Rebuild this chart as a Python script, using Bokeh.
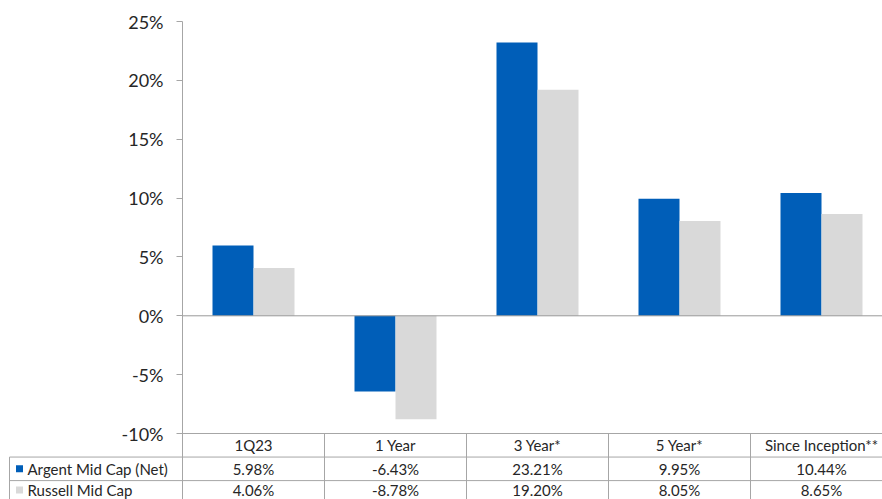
from bokeh.plotting import figure
from bokeh.models import Range1d, FixedTicker, PrintfTickFormatter, ColumnDataSource
from bokeh.core.properties import value
from bokeh.embed import file_html
from bokeh.resources import INLINE

# ---- data ----
categories = ["1Q23", "1 Year", "3 Year*", "5 Year*", "Since Inception**"]
series_names = ["Argent Mid Cap (Net)", "Russell Mid Cap"]
argent = [5.98, -6.43, 23.21, 9.95, 10.44]
russell = [4.06, -8.78, 19.20, 8.05, 8.65]
y_ticks = [-10, -5, 0, 5, 10, 15, 20, 25]

BLUE = "#005EB8"
GRAY = "#D9D9D9"
LINE = "#A6A6A6"
TXT = "#262626"
FONT = "Lato"

# layout (pixels -> data units)
PX_PER_CAT = 142.0
PX_PER_PCT = 11.771
W, H = 882, 499
AXIS_PX = 182          # axis position inside the figure
ZERO_PX = 315.3        # zero line inside the figure
x0 = -AXIS_PX / PX_PER_CAT
x1 = (W - AXIS_PX) / PX_PER_CAT
y1 = ZERO_PX / PX_PER_PCT
y0 = -(H - ZERO_PX) / PX_PER_PCT

p = figure(width=W, height=H, output_backend="svg", toolbar_location=None,
           x_range=Range1d(x0, x1), y_range=Range1d(y0, y1),
           min_border=0, min_border_left=0, min_border_right=0,
           min_border_top=0, min_border_bottom=0)
p.outline_line_color = None
p.xgrid.visible = False
p.ygrid.visible = False
p.xaxis.visible = False
p.background_fill_color = "white"
p.border_fill_color = "white"

ax = p.yaxis[0]
ax.fixed_location = 0
ax.ticker = FixedTicker(ticks=y_ticks)
ax.formatter = PrintfTickFormatter(format="%d%%")
ax.axis_line_color = None
ax.major_tick_line_color = LINE
ax.major_tick_out = 6
ax.major_tick_in = 0
ax.minor_tick_line_color = None
ax.major_label_text_font = FONT
ax.major_label_text_font_size = "18px"
ax.major_label_text_color = TXT
ax.major_label_standoff = 13

n = len(categories)
centers = [i + 0.5 for i in range(n)]
bw = 41 / PX_PER_CAT
src = ColumnDataSource(dict(xa=[c - bw / 2 for c in centers],
                            xr=[c + bw / 2 for c in centers],
                            a=argent, r=russell))
p.vbar(x="xa", width=bw, top="a", bottom=0, source=src, fill_color=BLUE, line_color=None)
p.vbar(x="xr", width=bw, top="r", bottom=0, source=src, fill_color=GRAY, line_color=None)

# axis line and zero line
p.segment(x0=[0], y0=[max(y_ticks)], x1=[0], y1=[y0], line_color=LINE, line_width=1)
p.segment(x0=[0], y0=[0], x1=[x1], y1=[0], line_color="#999999", line_width=1)

# ---- data table below the chart ----
tbl_top = min(y_ticks)
row_h = 2.0
left_x = (9 - AXIS_PX) / PX_PER_CAT
# horizontal lines
p.segment(x0=[0], y0=[tbl_top], x1=[x1], y1=[tbl_top], line_color=LINE)
p.segment(x0=[left_x, left_x], y0=[tbl_top - row_h, tbl_top - 2 * row_h],
          x1=[x1, x1], y1=[tbl_top - row_h, tbl_top - 2 * row_h], line_color=LINE)
# vertical lines
p.segment(x0=list(range(1, n)), y0=[tbl_top] * (n - 1), x1=list(range(1, n)), y1=[y0] * (n - 1),
          line_color=LINE)
p.segment(x0=[left_x], y0=[tbl_top - row_h], x1=[left_x], y1=[y0], line_color=LINE)

# header
p.text(x=centers, y=[tbl_top - row_h / 2] * n, text=categories,
       text_font=value(FONT), text_font_size="15px", text_color=TXT,
       text_align="center", text_baseline="middle")
# rows (the last row sits at the page's bottom edge, nudged up to stay visible)
rows = [argent, russell]
colors = [BLUE, GRAY]
row_centers = [tbl_top - row_h * 1.5, tbl_top - row_h * 2.4]
for k, (vals, name, col) in enumerate(zip(rows, series_names, colors)):
    yc = row_centers[k]
    p.text(x=centers, y=[yc] * n, text=[f"{v:.2f}%" for v in vals],
           text_font=value(FONT), text_font_size="15px", text_color=TXT,
           text_align="center", text_baseline="middle")
    p.text(x=[(27 - AXIS_PX) / PX_PER_CAT], y=[yc], text=[name],
           text_font=value(FONT), text_font_size="15px", text_color=TXT,
           text_align="left", text_baseline="middle")
    p.scatter(x=[(19 - AXIS_PX) / PX_PER_CAT], y=[yc], marker="square", size=7,
              fill_color=col, line_color=None)

open("out.html", "w").write(file_html(p, INLINE))
